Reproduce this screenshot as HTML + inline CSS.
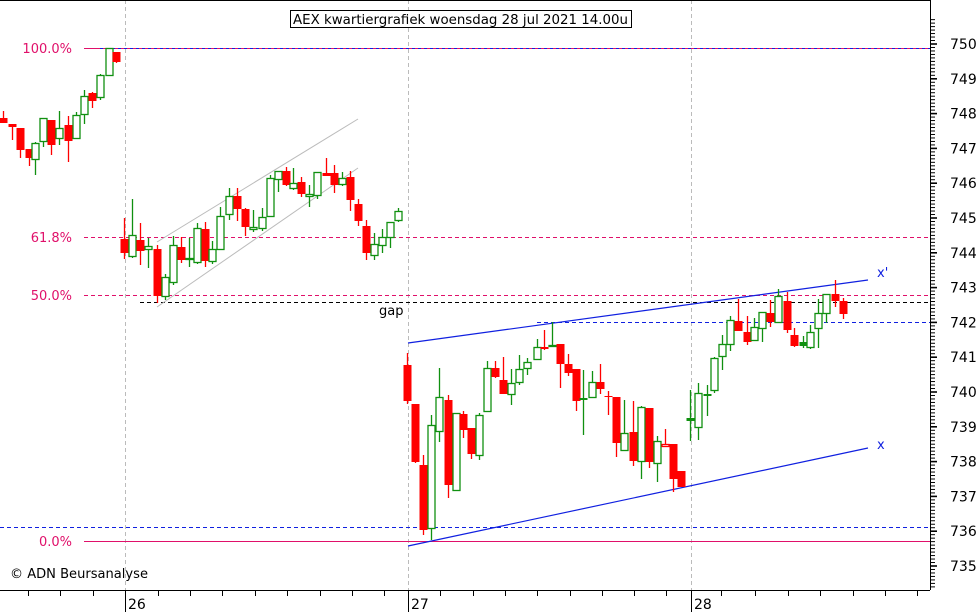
<!DOCTYPE html>
<html><head><meta charset="utf-8"><style>
html,body{margin:0;padding:0;background:#fff;}
svg{display:block;font-family:"DejaVu Sans","Liberation Sans",sans-serif;}
</style></head><body>
<svg id="s" width="980" height="612" xmlns="http://www.w3.org/2000/svg">
<rect width="980" height="612" fill="#fff"/>
<line x1="125.5" y1="0" x2="125.5" y2="590" stroke="#bbb" stroke-dasharray="4,3"/>
<line x1="408.5" y1="0" x2="408.5" y2="590" stroke="#bbb" stroke-dasharray="4,3"/>
<line x1="691.5" y1="0" x2="691.5" y2="590" stroke="#bbb" stroke-dasharray="4,3"/>
<line x1="84" y1="48.5" x2="930" y2="48.5" stroke="#e0106a"/>
<line x1="100" y1="48.5" x2="930" y2="48.5" stroke="#1020e0" stroke-dasharray="3,3"/>
<line x1="84" y1="237.5" x2="930" y2="237.5" stroke="#e0106a" stroke-dasharray="4,3"/>
<line x1="84" y1="295.5" x2="930" y2="295.5" stroke="#e0106a" stroke-dasharray="4,3"/>
<line x1="140" y1="302.5" x2="930" y2="302.5" stroke="#000" stroke-dasharray="4,3"/>
<line x1="537" y1="322.5" x2="930" y2="322.5" stroke="#1020e0" stroke-dasharray="4,3"/>
<line x1="0" y1="527.5" x2="930" y2="527.5" stroke="#1020e0" stroke-dasharray="4,3"/>
<line x1="84" y1="541.5" x2="930" y2="541.5" stroke="#e0106a"/>
<line x1="157" y1="242" x2="358" y2="119" stroke="#bbb"/>
<line x1="157" y1="307" x2="358" y2="168" stroke="#bbb"/>
<line x1="408" y1="343" x2="868" y2="280" stroke="#1020e0" stroke-width="1.2"/>
<line x1="408" y1="546" x2="868" y2="448" stroke="#1020e0" stroke-width="1.2"/>
<g id="c"></g>
<g font-size="13" fill="#e0106a" text-anchor="end">
<text x="72" y="53">100.0%</text>
<text x="72" y="242">61.8%</text>
<text x="72" y="300">50.0%</text>
<text x="72" y="546">0.0%</text>
</g>
<text x="877" y="277" font-size="13" fill="#1020e0">x'</text>
<text x="877" y="449" font-size="13" fill="#1020e0">x</text>
<text x="379" y="315" font-size="13" fill="#000">gap</text>
<text x="10" y="578" font-size="13" fill="#000" textLength="138" lengthAdjust="spacingAndGlyphs">© ADN Beursanalyse</text>
<rect x="290.5" y="10.5" width="341" height="17" fill="#fff" stroke="#000"/>
<text x="293" y="24" font-size="13" fill="#000" textLength="335" lengthAdjust="spacingAndGlyphs">AEX kwartiergrafiek woensdag 28 jul 2021 14.00u</text>
<line x1="0" y1="0.5" x2="930" y2="0.5" stroke="#000"/>
<line x1="930.5" y1="0" x2="930.5" y2="590" stroke="#000"/>
<line x1="0" y1="590.5" x2="930" y2="590.5" stroke="#000"/>
<g id="ax"></g>
<g font-size="14" fill="#000">
<text x="128" y="609">26</text><text x="411" y="609">27</text><text x="694" y="609">28</text>
</g>
</svg>
<script>
var NS="http://www.w3.org/2000/svg";
function el(p,t,a){var e=document.createElementNS(NS,t);for(var k in a)e.setAttribute(k,a[k]);p.appendChild(e);return e;}
var C=[
[3,'r',118,123,111,123],[12,'r',124,127,124,140],[20,'r',128,150,128,158],[29,'r',149,158,149,166],[35,'g',143,159,142,175],
[43,'g',118,141,118,147],[51,'r',120,145,120,155],[59,'g',128,138,111,145],[68,'r',125,141,116,162],[76,'g',115,138,112,138],
[84,'g',96,114,90,124],[92,'r',93,101,92,108],[100,'g',75,97,74,100],[109,'g',48,75,48,75],[116,'r',52,62,52,63],
[124,'r',239,253,218,259],[132,'g',235,256,199,258],[140,'r',240,251,223,265],[148,'g',246,249,238,268],[157,'r',249,296,245,303],
[165,'g',277,296,274,300],[173,'g',245,282,236,285],[181,'r',247,260,237,263],[189,'g',258,259,238,267],[197,'g',228,262,223,264],
[205,'r',229,261,222,267],[212,'g',249,261,241,264],[220,'g',216,249,207,249],[229,'g',196,214,188,220],[237,'r',196,209,188,221],
[245,'r',209,227,208,236],[253,'g',227,229,210,232],[262,'g',217,228,208,231],[270,'g',178,216,175,216],[278,'g',171,179,171,192],
[286,'r',171,185,167,186],[293,'g',183,188,168,190],[301,'r',182,194,177,197],[309,'g',194,196,185,207],[317,'g',172,195,172,199],
[326,'r',173,176,158,176],[334,'r',173,185,165,193],[342,'g',178,184,172,186],[350,'r',177,200,171,211],[358,'r',204,221,199,226],
[366,'r',226,253,220,260],[374,'g',244,255,233,260],[382,'g',237,245,229,253],[390,'g',222,237,222,248],[398,'g',211,220,208,222],
[407,'r',365,401,353,404],[415,'r',404,462,404,463],[423,'r',465,530,455,535],[431,'g',425,528,415,540],[439,'g',397,431,368,442],
[448,'r',400,485,395,498],[456,'g',413,490,413,490],[463,'r',414,430,411,438],[471,'r',428,454,428,459],[479,'g',415,455,413,460],
[487,'g',368,411,361,411],[495,'r',368,377,361,378],[503,'r',380,394,357,394],[511,'g',383,394,369,405],[519,'g',369,382,355,385],
[527,'g',362,368,358,375],[537,'g',347,359,339,360],[544,'r',347,349,330,350],[552,'g',345,346,322,346],[560,'r',344,364,344,388],
[568,'r',364,373,354,376],[576,'r',369,401,369,411],[583,'G',398,399,370,435],[592,'g',382,397,371,398],[600,'r',382,389,364,394],
[608,'r',396,397,391,415],[616,'r',397,443,397,457],[624,'g',433,450,400,450],[633,'r',432,461,401,466],[641,'g',407,461,406,479],
[649,'r',408,462,408,468],[657,'g',441,463,436,482],[665,'rh',444,446,429,447],[673,'r',444,479,444,492],[681,'r',471,487,471,487],
[690,'G',418,421,390,441],[698,'g',393,427,383,440],[707,'G',394,395,385,416],[714,'g',358,390,357,393],[722,'g',344,356,335,370],
[730,'g',320,344,316,351],[738,'r',321,331,299,331],[747,'r',332,342,316,345],[754,'g',327,340,318,341],[762,'g',312,328,312,342],
[770,'r',313,322,300,327],[778,'g',296,322,289,322],[787,'r',301,330,292,333],[794,'r',335,346,328,347],[803,'G',342,346,336,348],
[810,'g',332,347,325,349],[818,'g',313,328,299,348],[826,'g',294,313,294,323],[835,'r',294,301,280,307],[843,'r',301,314,298,319]];
var g=document.getElementById('c');
C.forEach(function(c){var x=c[0],t=c[1],col=(t[0]=='r')?'#f00':'#109010';
el(g,'line',{x1:x+.5,x2:x+.5,y1:c[4],y2:c[5],stroke:col,'stroke-width':1.3});
var h=Math.max(c[3]-c[2],1);
if(t=='r')el(g,'rect',{x:x-3.5,y:c[2],width:8,height:h,fill:'#f00'});
else if(t=='rh'||t=='g')el(g,'rect',{x:x-3,y:c[2]+.5,width:7,height:h,fill:'#fff',stroke:col,'stroke-width':1.3});
else el(g,'rect',{x:x-3.5,y:c[2],width:8,height:Math.max(h,2),fill:col});
});
var a=document.getElementById('ax');
for(var i=0;i<=175;i++){var v=750.7-i/10;var y=44+(750-v)*34.8;if(y<2||y>589)continue;
var maj=Math.abs(v-Math.round(v))<0.01;el(a,'line',{x1:931,x2:maj?937:935,y1:y,y2:y,stroke:'#000','stroke-width':maj?1.6:1});
if(maj){var t=el(a,'text',{x:950,y:y+5,'font-size':14,fill:'#000'});t.textContent=Math.round(v);}}
var tx=[28,60,93,125,158,190,222,255,287,320,352,384,408,440,473,505,537,570,602,634,666,691,721,755,788,820,853,885,917];
tx.forEach(function(x){var m=(x==125||x==408||x==691);el(a,'line',{x1:x+.5,x2:x+.5,y1:590,y2:m?612:596,stroke:'#000'});});
</script>
</body></html>
